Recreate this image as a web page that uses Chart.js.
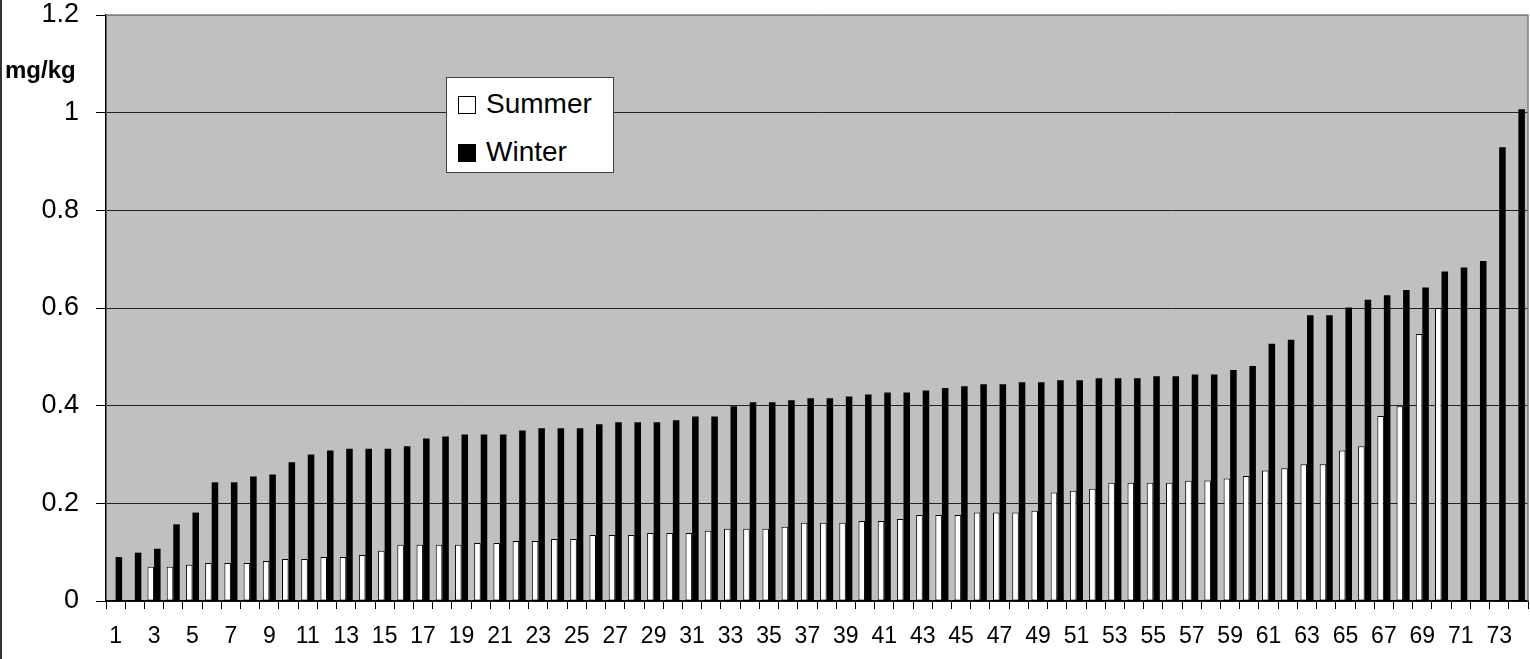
<!DOCTYPE html>
<html>
<head>
<meta charset="utf-8">
<script src="https://cdn.jsdelivr.net/npm/chart.js@4"></script>
<style>
    html, body { margin: 0; padding: 0; background: #fff; }
    #wrap { position: relative; width: 1530px; height: 659px; }
    #edge { position: absolute; left: 0; top: 0; width: 2px; height: 659px; background: #333; }
    #unit {
        position: absolute; left: 5px; top: 56px;
        font: bold 24px "Liberation Sans", Arial, sans-serif; color: #000;
    }
    #legend {
        position: absolute; left: 446px; top: 77px; width: 166px; height: 94px;
        background: #fff; border: 1px solid #404040;
        font: 28px "Liberation Sans", Arial, sans-serif; color: #000;
    }
    #legend .item { position: absolute; left: 11px; height: 32px; line-height: 32px; white-space: nowrap; }
    #legend .box { display: inline-block; width: 18px; height: 18px; box-sizing: border-box; border: 1px solid #000; vertical-align: -1px; margin-right: 10px; }
</style>
</head>
<body>
<div id="wrap">
    <canvas id="myChart" width="1530" height="659"></canvas>
    <div id="edge"></div>
    <div id="unit">mg/kg</div>
    <div id="legend"></div>
</div>
<script>
// categories 1..74
const categories = ['1','2','3','4','5','6','7','8','9','10','11','12','13','14','15','16','17','18','19','20',
    '21','22','23','24','25','26','27','28','29','30','31','32','33','34','35','36','37','38','39','40',
    '41','42','43','44','45','46','47','48','49','50','51','52','53','54','55','56','57','58','59','60',
    '61','62','63','64','65','66','67','68','69','70','71','72','73','74'];

const summer = [null, null, 0.070, 0.070, 0.074, 0.078, 0.078, 0.078, 0.082, 0.086,
    0.086, 0.090, 0.090, 0.094, 0.103, 0.115, 0.115, 0.115, 0.115, 0.119,
    0.119, 0.123, 0.123, 0.127, 0.127, 0.135, 0.135, 0.135, 0.139, 0.139,
    0.139, 0.144, 0.148, 0.148, 0.148, 0.152, 0.160, 0.160, 0.160, 0.164,
    0.164, 0.168, 0.176, 0.176, 0.176, 0.181, 0.181, 0.181, 0.185, 0.222,
    0.226, 0.230, 0.242, 0.242, 0.242, 0.242, 0.246, 0.247, 0.251, 0.256,
    0.267, 0.272, 0.280, 0.280, 0.308, 0.317, 0.379, 0.399, 0.547, 0.600,
    null, null, null, null];

const winter = [0.090, 0.099, 0.107, 0.157, 0.181, 0.243, 0.243, 0.255, 0.259, 0.284,
    0.300, 0.308, 0.312, 0.312, 0.312, 0.317, 0.333, 0.337, 0.341, 0.341,
    0.341, 0.349, 0.354, 0.354, 0.354, 0.362, 0.366, 0.366, 0.366, 0.370,
    0.378, 0.378, 0.399, 0.407, 0.407, 0.411, 0.415, 0.415, 0.419, 0.423,
    0.427, 0.427, 0.431, 0.436, 0.440, 0.444, 0.444, 0.448, 0.448, 0.452,
    0.452, 0.456, 0.456, 0.456, 0.460, 0.460, 0.464, 0.464, 0.473, 0.481,
    0.527, 0.535, 0.585, 0.585, 0.601, 0.617, 0.626, 0.637, 0.642, 0.675,
    0.683, 0.696, 0.929, 1.007];

const yTicks = [0, 0.2, 0.4, 0.6, 0.8, 1, 1.2];
const unitLabel = 'mg/kg';

const fontFamily = '"Liberation Sans", Arial, sans-serif';

// gray plot area with gray top/right frame
const plotArea = {
    id: 'plotArea',
    beforeDraw(chart) {
        const { ctx, chartArea: a } = chart;
        ctx.save();
        ctx.fillStyle = '#C0C0C0';
        ctx.fillRect(a.left, a.top, a.right - a.left, a.bottom - a.top);
        ctx.restore();
    },
    afterDraw(chart) {
        const { ctx, chartArea: a } = chart;
        ctx.save();
        ctx.strokeStyle = '#808080';
        ctx.lineWidth = 1.5;
        ctx.beginPath();
        ctx.moveTo(a.left, a.top);
        ctx.lineTo(a.right, a.top);
        ctx.lineTo(a.right, a.bottom);
        ctx.stroke();
        ctx.restore();
    }
};

const config = {
    type: 'bar',
    data: {
        labels: categories,
        datasets: [{
            label: 'Summer',
            data: summer,
            backgroundColor: '#ffffff',
            borderColor: '#000000',
            borderWidth: 1,
            borderSkipped: false
        }, {
            label: 'Winter',
            data: winter,
            backgroundColor: '#000000',
            borderColor: '#000000',
            borderWidth: 0
        }]
    },
    options: {
        responsive: false,
        animation: false,
        categoryPercentage: 0.68,
        barPercentage: 1.0,
        layout: { padding: { top: 15, right: 2, bottom: 0, left: 0 } },
        plugins: {
            legend: { display: false },
            tooltip: { enabled: false }
        },
        scales: {
            x: {
                offset: true,
                grid: {
                    offset: true,
                    drawOnChartArea: false,
                    drawTicks: true,
                    tickLength: 8,
                    color: '#000'
                },
                border: { display: true, color: '#000', width: 1.5 },
                ticks: {
                    autoSkip: false,
                    maxRotation: 0,
                    minRotation: 0,
                    padding: 14,
                    color: '#000',
                    font: { family: fontFamily, size: 23 },
                    callback: (v, i) => (i % 2 === 0 ? categories[i] : '')
                },
                afterFit: (scale) => {
                    scale.height = 58;
                    scale.paddingLeft = 0;
                    scale.paddingRight = 0;
                }
            },
            y: {
                min: 0,
                max: 1.2,
                afterBuildTicks: (scale) => { scale.ticks = yTicks.map(v => ({ value: v })); },
                grid: {
                    color: (c) => (c.tick && c.tick.value === 1.2 ? '#808080' : '#222'),
                    tickColor: '#000',
                    lineWidth: 1,
                    tickLength: 10
                },
                border: { display: true, color: '#000', width: 1.5 },
                ticks: {
                    padding: 17,
                    color: '#000',
                    font: { family: fontFamily, size: 27, lineHeight: 1 },
                    callback: (v) => String(Number(v.toFixed(1)))
                },
                afterFit: (scale) => {
                    scale.width = 106;
                    scale.paddingTop = 0;
                    scale.paddingBottom = 0;
                }
            }
        }
    },
    plugins: [plotArea]
};

const myChart = new Chart(document.getElementById('myChart'), config);

// legend built from the chart's datasets
document.getElementById('unit').textContent = unitLabel;
const legend = document.getElementById('legend');
myChart.data.datasets.forEach((ds, i) => {
    const item = document.createElement('div');
    item.className = 'item';
    item.style.top = (10 + i * 48) + 'px';
    const box = document.createElement('span');
    box.className = 'box';
    box.style.background = ds.backgroundColor;
    item.appendChild(box);
    item.appendChild(document.createTextNode(ds.label));
    legend.appendChild(item);
});
</script>
</body>
</html>
